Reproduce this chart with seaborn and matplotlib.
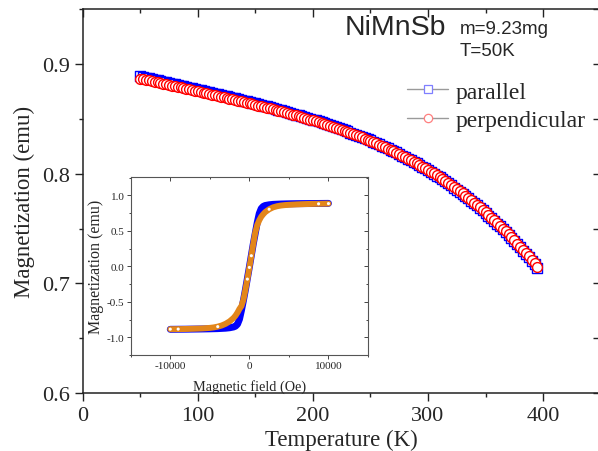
import numpy as np
import matplotlib
matplotlib.use('Agg')
import matplotlib.pyplot as plt
from matplotlib.lines import Line2D
from matplotlib.ticker import MultipleLocator, NullFormatter
import seaborn as sns
import pandas as pd

# main panel: M(T), 2.5 K steps
temp = [50, 52.5, 55, 57.5, 60, 62.5, 65, 67.5, 70, 72.5, 75, 77.5, 80, 82.5,
        85, 87.5, 90, 92.5, 95, 97.5, 100, 102.5, 105, 107.5, 110, 112.5, 115,
        117.5, 120, 122.5, 125, 127.5, 130, 132.5, 135, 137.5, 140, 142.5, 145,
        147.5, 150, 152.5, 155, 157.5, 160, 162.5, 165, 167.5, 170, 172.5, 175,
        177.5, 180, 182.5, 185, 187.5, 190, 192.5, 195, 197.5, 200, 202.5, 205,
        207.5, 210, 212.5, 215, 217.5, 220, 222.5, 225, 227.5, 230, 232.5, 235,
        237.5, 240, 242.5, 245, 247.5, 250, 252.5, 255, 257.5, 260, 262.5, 265,
        267.5, 270, 272.5, 275, 277.5, 280, 282.5, 285, 287.5, 290, 292.5, 295,
        297.5, 300, 302.5, 305, 307.5, 310, 312.5, 315, 317.5, 320, 322.5, 325,
        327.5, 330, 332.5, 335, 337.5, 340, 342.5, 345, 347.5, 350, 352.5, 355,
        357.5, 360, 362.5, 365, 367.5, 370, 372.5, 375, 377.5, 380, 382.5, 385,
        387.5, 390, 392.5, 395]
m_perp = [0.8866, 0.8860, 0.8854, 0.8849, 0.8843, 0.8837, 0.8831, 0.8825,
          0.8820, 0.8814, 0.8808, 0.8802, 0.8796, 0.8791, 0.8785, 0.8779,
          0.8773, 0.8767, 0.8761, 0.8756, 0.8750, 0.8744, 0.8738, 0.8732,
          0.8726, 0.8720, 0.8714, 0.8708, 0.8702, 0.8696, 0.8690, 0.8684,
          0.8678, 0.8672, 0.8665, 0.8659, 0.8653, 0.8647, 0.8640, 0.8634,
          0.8628, 0.8621, 0.8615, 0.8608, 0.8601, 0.8595, 0.8588, 0.8581,
          0.8574, 0.8567, 0.8560, 0.8553, 0.8546, 0.8538, 0.8531, 0.8524,
          0.8516, 0.8509, 0.8501, 0.8493, 0.8485, 0.8477, 0.8469, 0.8461,
          0.8453, 0.8444, 0.8435, 0.8427, 0.8418, 0.8409, 0.8400, 0.8390,
          0.8381, 0.8371, 0.8361, 0.8351, 0.8341, 0.8331, 0.8320, 0.8310,
          0.8299, 0.8288, 0.8277, 0.8265, 0.8253, 0.8242, 0.8229, 0.8217,
          0.8205, 0.8192, 0.8179, 0.8165, 0.8152, 0.8138, 0.8124, 0.8110,
          0.8095, 0.8080, 0.8065, 0.8050, 0.8034, 0.8018, 0.8002, 0.7985,
          0.7968, 0.7951, 0.7933, 0.7915, 0.7897, 0.7878, 0.7859, 0.7840,
          0.7820, 0.7800, 0.7779, 0.7758, 0.7737, 0.7715, 0.7693, 0.7671,
          0.7648, 0.7624, 0.7600, 0.7576, 0.7551, 0.7526, 0.7500, 0.7474,
          0.7447, 0.7420, 0.7392, 0.7364, 0.7336, 0.7307, 0.7277, 0.7247,
          0.7215, 0.7184, 0.7152]
m_par = [0.8886, 0.8880, 0.8874, 0.8869, 0.8863, 0.8857, 0.8851, 0.8845,
         0.8838, 0.8832, 0.8826, 0.8820, 0.8814, 0.8809, 0.8803, 0.8797,
         0.8791, 0.8783, 0.8777, 0.8772, 0.8766, 0.8760, 0.8754, 0.8748,
         0.8742, 0.8736, 0.8730, 0.8722, 0.8716, 0.8710, 0.8704, 0.8698,
         0.8692, 0.8686, 0.8679, 0.8673, 0.8665, 0.8659, 0.8652, 0.8646,
         0.8640, 0.8633, 0.8627, 0.8620, 0.8613, 0.8605, 0.8598, 0.8591,
         0.8584, 0.8577, 0.8570, 0.8563, 0.8556, 0.8548, 0.8539, 0.8532,
         0.8524, 0.8517, 0.8509, 0.8501, 0.8493, 0.8485, 0.8477, 0.8467,
         0.8459, 0.8450, 0.8441, 0.8433, 0.8424, 0.8415, 0.8406, 0.8396,
         0.8385, 0.8375, 0.8365, 0.8355, 0.8345, 0.8335, 0.8324, 0.8314,
         0.8303, 0.8290, 0.8279, 0.8267, 0.8255, 0.8244, 0.8231, 0.8219,
         0.8207, 0.8194, 0.8179, 0.8165, 0.8152, 0.8138, 0.8124, 0.8110,
         0.8095, 0.8080, 0.8065, 0.8050, 0.8032, 0.8016, 0.8000, 0.7983,
         0.7966, 0.7949, 0.7931, 0.7913, 0.7895, 0.7874, 0.7855, 0.7836,
         0.7816, 0.7796, 0.7775, 0.7754, 0.7733, 0.7711, 0.7687, 0.7665,
         0.7642, 0.7618, 0.7594, 0.7570, 0.7545, 0.7520, 0.7494, 0.7466,
         0.7439, 0.7412, 0.7384, 0.7356, 0.7328, 0.7299, 0.7269, 0.7239,
         0.7205, 0.7174, 0.7142]

# inset: hysteresis loops M(H)
field_a = [-10000, -8000, -6000, -5000, -4000, -3000, -2500, -2000, -1750,
           -1500, -1250, -1000, -750, -500, -250, 0, 250, 500, 750, 1000,
           1250, 1500, 1750, 2000, 2500, 3000, 4000, 5000, 6000, 8000, 10000]
loop_a = [-0.888, -0.886, -0.883, -0.881, -0.878, -0.872, -0.866, -0.855,
          -0.843, -0.815, -0.745, -0.620, -0.480, -0.330, -0.170, -0.010,
          0.155, 0.320, 0.470, 0.620, 0.745, 0.815, 0.845, 0.858, 0.868,
          0.874, 0.879, 0.882, 0.884, 0.886, 0.888]
field_b = [-10000, -9000, -8000, -7000, -6000, -5000, -4500, -4000, -3500,
           -3000, -2500, -2000, -1750, -1500, -1250, -1000, -750, -500, -250,
           0, 250, 500, 750, 1000, 1250, 1500, 1750, 2000, 2500, 3000, 3500,
           4000, 4500, 5000, 6000, 7000, 8000, 9000, 10000]
loop_b = [-0.886, -0.885, -0.883, -0.880, -0.876, -0.868, -0.861, -0.850,
          -0.834, -0.810, -0.776, -0.728, -0.695, -0.652, -0.600, -0.560,
          -0.470, -0.330, -0.180, -0.015, 0.150, 0.320, 0.480, 0.585, 0.650,
          0.700, 0.735, 0.765, 0.805, 0.832, 0.848, 0.858, 0.864, 0.868,
          0.874, 0.878, 0.881, 0.883, 0.885]
dots_h = [-10000, -9000, -4000, -250, 0, 250, 2500, 8750, 10000]
dots_m = [-0.886, -0.885, -0.850, -0.180, -0.015, 0.150, 0.805, 0.882, 0.885]

sns.set_theme(style='ticks')
plt.rcParams['font.family'] = ['Liberation Serif', 'DejaVu Serif']
plt.rcParams['axes.unicode_minus'] = False

fig = plt.figure(figsize=(5.98, 4.52), dpi=100)
ax = fig.add_axes([0.1383, 0.1277, 0.8662, 0.8502])

sns.scatterplot(x=temp, y=m_par, marker='s', s=48, color='white',
                edgecolor='#0000ff', linewidth=1.0, ax=ax, legend=False, zorder=2)
sns.scatterplot(x=temp, y=m_perp, marker='o', s=50, color='white',
                edgecolor='#ff0000', linewidth=1.0, ax=ax, legend=False, zorder=3)

ax.set_xlim(0, 450)
ax.set_ylim(0.6, 0.95)
ax.set_xticks([0, 100, 200, 300, 400])
ax.set_yticks([0.6, 0.7, 0.8, 0.9])
ax.xaxis.set_minor_locator(MultipleLocator(50))
ax.yaxis.set_minor_locator(MultipleLocator(0.05))
ax.tick_params(which='major', direction='out', length=6, width=1,
               labelsize=16, pad=3, color='#222222')
ax.tick_params(which='minor', direction='out', length=3, width=1, color='#222222')
for sp in ax.spines.values():
    sp.set_color('#222222')
    sp.set_linewidth(1.1)
ax.set_xlabel('Temperature (K)', fontsize=16.5, labelpad=3)
ax.set_ylabel('Magnetization (emu)', fontsize=16.5, labelpad=5)

top = ax.secondary_xaxis('top')
top.set_xticks([0, 100, 200, 300, 400])
top.xaxis.set_minor_locator(MultipleLocator(50))
top.xaxis.set_major_formatter(NullFormatter())
top.tick_params(which='major', direction='in', length=6, width=1, color='#222222')
top.tick_params(which='minor', direction='in', length=3, width=1, color='#222222')
right = ax.secondary_yaxis('right')
right.set_yticks([0.6, 0.7, 0.8, 0.9])
right.yaxis.set_minor_locator(MultipleLocator(0.05))
right.yaxis.set_major_formatter(NullFormatter())
right.tick_params(which='both', direction='in', length=6, width=1, color='#222222')

handles = [
    Line2D([0], [0], color='#9a9a9a', lw=1, marker='s', markersize=5.5,
           mfc='white', mec='#7f7fff', mew=0.9),
    Line2D([0], [0], color='#9a9a9a', lw=1, marker='o', markersize=6,
           mfc='white', mec='#ff7f7f', mew=0.9),
]
ax.legend(handles, ['parallel', 'perpendicular'], loc='upper left',
          bbox_to_anchor=(407 / 598, 1 - 82 / 452), bbox_transform=fig.transFigure,
          frameon=False, fontsize=17, handlelength=1.75, handletextpad=0.3,
          labelspacing=0.3, borderpad=0, borderaxespad=0)

fig.text(345 / 598, 1 - 35 / 452, 'NiMnSb', fontsize=20.5,
         family='Liberation Sans', va='baseline', ha='left')
fig.text(460 / 598, 1 - 34 / 452, 'm=9.23mg', fontsize=13.5,
         family='Liberation Sans', va='baseline', ha='left')
fig.text(460 / 598, 1 - 56 / 452, 'T=50K', fontsize=13.5,
         family='Liberation Sans', va='baseline', ha='left')

# inset
axin = fig.add_axes([0.2186, 0.2124, 0.3968, 0.3938])
sns.lineplot(x=field_a, y=loop_a, color='#0000ff', lw=5, sort=False,
             estimator=None, ax=axin, zorder=2)
sns.lineplot(x=field_b, y=loop_b, color='#e3861a', lw=4.3, sort=False,
             estimator=None, ax=axin, zorder=3)
axin.scatter(dots_h, dots_m, s=5, color='white', edgecolor='none', zorder=4)
axin.set_xlim(-15000, 15000)
axin.set_ylim(-1.25, 1.26)
axin.set_xticks([-10000, 0, 10000])
axin.set_yticks([-1.0, -0.5, 0.0, 0.5, 1.0])
axin.set_yticklabels(['-1.0', '-0.5', '0.0', '0.5', '1.0'])
axin.xaxis.set_minor_locator(MultipleLocator(5000))
axin.yaxis.set_minor_locator(MultipleLocator(0.25))
axin.tick_params(which='major', direction='out', length=3, width=0.7,
                 labelsize=8, pad=1.5, color='#444444')
axin.tick_params(which='minor', direction='out', length=1.5, width=0.7, color='#444444')
for sp in axin.spines.values():
    sp.set_color('#555555')
    sp.set_linewidth(0.8)
axin.set_xlabel('Magnetic field (Oe)', fontsize=10.3, labelpad=6.5)
axin.set_ylabel('Magnetization (emu)', fontsize=11.5, labelpad=2)
itop = axin.secondary_xaxis('top')
itop.set_xticks([-10000, 0, 10000])
itop.xaxis.set_minor_locator(MultipleLocator(5000))
itop.xaxis.set_major_formatter(NullFormatter())
itop.tick_params(which='major', direction='in', length=3, width=0.7, color='#444444')
itop.tick_params(which='minor', direction='in', length=1.5, width=0.7, color='#444444')
iright = axin.secondary_yaxis('right')
iright.set_yticks([-1.0, -0.5, 0.0, 0.5, 1.0])
iright.yaxis.set_minor_locator(MultipleLocator(0.25))
iright.yaxis.set_major_formatter(NullFormatter())
iright.tick_params(which='major', direction='in', length=3, width=0.7, color='#444444')
iright.tick_params(which='minor', direction='in', length=1.5, width=0.7, color='#444444')
for a in (itop, iright, top, right):
    for sp in a.spines.values():
        sp.set_visible(False)

fig.savefig('out.png', dpi=100)
